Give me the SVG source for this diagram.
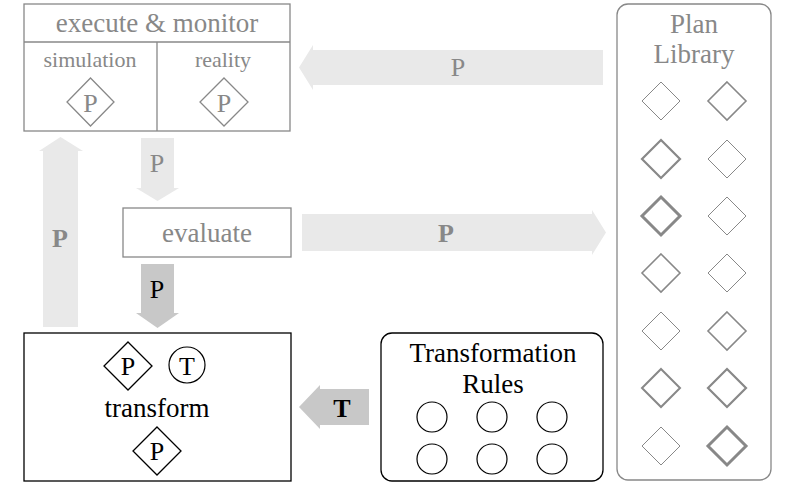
<svg xmlns="http://www.w3.org/2000/svg" width="793" height="494" viewBox="0 0 793 494" font-family="'Liberation Serif', 'DejaVu Serif', 'Times New Roman', serif">
<style>
text{font-family:'Liberation Serif','Times New Roman',Times,serif;text-anchor:middle}
.g{fill:#888}
.k{fill:#000}
.box{fill:#fff;stroke:#888;stroke-width:1.3}
.bk{fill:#fff;stroke:#000;stroke-width:1.3}
.lt{fill:#e9e9e9}
.dk{fill:#c8c8c8}
.dg{fill:#fff;stroke:#888}
.db{fill:#fff;stroke:#000;stroke-width:1.3}
.c{fill:#fff;stroke:#000;stroke-width:1.2}
</style>
<rect width="793" height="494" fill="#fff"/>
<g id="connectors">
<polygon class="lt" points="43,327 43,151 39,151 60.5,137 83,151 78,151 78,327"/>
<text x="60" y="247" class="g" font-size="26" font-weight="bold">P</text>
<polygon class="lt" points="141,138 174,138 174,188 179,188 157.5,201 136,188 141,188"/>
<text x="157" y="172" class="g" font-size="26">P</text>
<polygon class="dk" points="141,264 174,264 174,313 179,313 157.5,328 136,313 141,313"/>
<text x="157" y="298" class="k" font-size="26">P</text>
<polygon class="lt" points="603,50 313,50 313,45 299,67.5 313,90 313,85 603,85"/>
<text x="458" y="76" class="g" font-size="26">P</text>
<polygon class="lt" points="302,214 592,214 592,210 606,232.5 592,255 592,251 302,251"/>
<text x="446" y="242" class="g" font-size="26" font-weight="bold">P</text>
<polygon class="dk" points="369,389 320,389 320,385 299,407 320,429 320,425 369,425"/>
<text x="342" y="417" class="k" font-size="26" font-weight="bold">T</text>
</g>
<g id="execute-monitor">
<rect class="box" x="24" y="4" width="266" height="127"/>
<line x1="24" y1="42" x2="290" y2="42" stroke="#888" stroke-width="1.3"/>
<line x1="157" y1="42" x2="157" y2="131" stroke="#888" stroke-width="1.3"/>
<text x="157" y="32" class="g" font-size="27">execute &amp; monitor</text>
<text x="90" y="67" class="g" font-size="22">simulation</text>
<text x="223" y="67" class="g" font-size="22">reality</text>
<polygon class="dg" stroke-width="1.3" points="90.5,78 114,102 90.5,126 67,102"/>
<text x="90.5" y="112" class="g" font-size="26">P</text>
<polygon class="dg" stroke-width="1.3" points="224,78 248,102 224,126 200,102"/>
<text x="224" y="112" class="g" font-size="26">P</text>
</g>
<g id="evaluate">
<rect class="box" x="123" y="208" width="168" height="49"/>
<text x="207" y="242" class="g" font-size="27">evaluate</text>
</g>
<g id="transform">
<rect class="bk" x="24" y="333" width="267" height="148"/>
<polygon class="db" points="128,342 152,366 128,390 104,366"/>
<text x="128" y="375" class="k" font-size="26">P</text>
<circle class="c" cx="187" cy="365" r="18"/>
<text x="187" y="375" class="k" font-size="26">T</text>
<text x="157" y="417" class="k" font-size="27">transform</text>
<polygon class="db" points="157,427 181,451 157,475 133,451"/>
<text x="157" y="460" class="k" font-size="26">P</text>
</g>
<g id="transformation-rules">
<rect class="bk" x="381" y="333" width="222" height="148" rx="11"/>
<text x="493" y="362" class="k" font-size="27">Transformation</text>
<text x="493" y="393" class="k" font-size="27">Rules</text>
<circle class="c" cx="432" cy="417" r="15"/>
<circle class="c" cx="492" cy="417" r="15"/>
<circle class="c" cx="552" cy="417" r="15"/>
<circle class="c" cx="432" cy="459" r="15"/>
<circle class="c" cx="492" cy="459" r="15"/>
<circle class="c" cx="552" cy="459" r="15"/>
</g>
<g id="plan-library">
<rect class="box" x="617" y="4" width="154" height="476" rx="11"/>
<text x="694" y="33" class="g" font-size="27">Plan</text>
<text x="694" y="63" class="g" font-size="27">Library</text>
<g transform="translate(661,101)"><polygon class="dg" stroke-width="1" points="0,-19 19,0 0,19 -19,0"/></g>
<g transform="translate(727,101)"><polygon class="dg" stroke-width="1.6" points="0,-19 19,0 0,19 -19,0"/></g>
<g transform="translate(661,159)"><polygon class="dg" stroke-width="2.2" points="0,-19 19,0 0,19 -19,0"/></g>
<g transform="translate(727,159)"><polygon class="dg" stroke-width="1" points="0,-19 19,0 0,19 -19,0"/></g>
<g transform="translate(661,216)"><polygon class="dg" stroke-width="3" points="0,-19 19,0 0,19 -19,0"/></g>
<g transform="translate(727,216)"><polygon class="dg" stroke-width="1" points="0,-19 19,0 0,19 -19,0"/></g>
<g transform="translate(661,273)"><polygon class="dg" stroke-width="1.6" points="0,-19 19,0 0,19 -19,0"/></g>
<g transform="translate(727,273)"><polygon class="dg" stroke-width="1" points="0,-19 19,0 0,19 -19,0"/></g>
<g transform="translate(661,331)"><polygon class="dg" stroke-width="1" points="0,-19 19,0 0,19 -19,0"/></g>
<g transform="translate(727,331)"><polygon class="dg" stroke-width="1.6" points="0,-19 19,0 0,19 -19,0"/></g>
<g transform="translate(661,388)"><polygon class="dg" stroke-width="2" points="0,-19 19,0 0,19 -19,0"/></g>
<g transform="translate(727,388)"><polygon class="dg" stroke-width="2.2" points="0,-19 19,0 0,19 -19,0"/></g>
<g transform="translate(661,446)"><polygon class="dg" stroke-width="1" points="0,-19 19,0 0,19 -19,0"/></g>
<g transform="translate(727,446)"><polygon class="dg" stroke-width="3" points="0,-19 19,0 0,19 -19,0"/></g>
</g>
</svg>
